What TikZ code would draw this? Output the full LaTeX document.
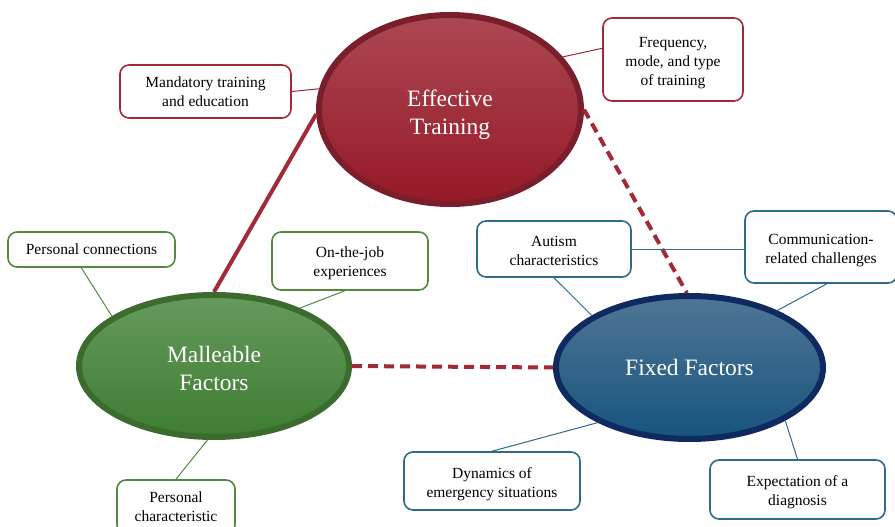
\documentclass[tikz,border=0pt]{standalone}
\usepackage{fontspec}
\setmainfont{Liberation Serif}
\usepackage{tikz}
\usepackage{xcolor}
\usetikzlibrary{arrows,positioning,shapes.geometric}

\definecolor{redrim}{HTML}{7A1E2B}
\definecolor{redtop}{HTML}{AB4853}
\definecolor{redbot}{HTML}{961827}
\definecolor{redline}{HTML}{A22A38}
\definecolor{greenrim}{HTML}{3B6B2E}
\definecolor{greentop}{HTML}{66995E}
\definecolor{greenbot}{HTML}{3E7D31}
\definecolor{greenline}{HTML}{54893F}
\definecolor{bluerim}{HTML}{0E2A60}
\definecolor{bluetop}{HTML}{4F7595}
\definecolor{bluebot}{HTML}{16547E}
\definecolor{blueline}{HTML}{2D6A8C}

% centred lines, set a little lower than the box middle
\newcommand\dropped[2][3pt]{\raisebox{-#1}[\height][\depth]{\begin{tabular}{@{}c@{}}#2\end{tabular}}}

\tikzset{
  factor/.style={ellipse,inner sep=0pt,line width=6pt,text=white,align=center,
    font=\fontsize{23.5}{28}\selectfont},
  callout/.style={rectangle,rounded corners=9pt,fill=white,line width=1.6pt,
    inner sep=0pt,align=center,font=\fontsize{15.5}{19}\selectfont},
  redbox/.style={callout,draw=redline},
  greenbox/.style={callout,draw=greenline},
  bluebox/.style={callout,draw=blueline},
  link/.style={line width=1pt},
  tie/.style={line width=4pt,draw=redline},
}

\begin{document}
\begin{tikzpicture}[x=1pt,y=-1pt]
\useasboundingbox (0,0) rectangle (895,527);

\node[factor,draw=redrim,top color=redtop,bottom color=redbot,minimum width=262,minimum height=189] (et) at (450,109.5){\dropped[5pt]{Effective\\Training}};
\node[factor,draw=greenrim,top color=greentop,bottom color=greenbot,minimum width=270,minimum height=142] (mf) at (214,366){\dropped[5pt]{Malleable\\Factors}};
\node[factor,draw=bluerim,top color=bluetop,bottom color=bluebot,minimum width=267,minimum height=143] (ff) at (689.5,367.5){Fixed Factors};

% links between the three factors
\draw[tie] (et.182) to (mf.north);
\draw[tie,dash pattern=on 10pt off 6pt] (et.east) to (ff.92);
\draw[tie,dash pattern=on 10pt off 6pt] (mf.east) to (ff.west);

\node[redbox,minimum width=171,minimum height=53] (mand) at (205.5,91.5){\dropped[2pt]{Mandatory training\\and education}};
\draw[link,redline] (mand.east) to (et.171);
\node[redbox,minimum width=140,minimum height=83] (freq) at (673,59.5){\dropped{Frequency,\\mode, and type\\of training}};
\draw[link,redline] (freq.171) to (et.25);

\node[greenbox,minimum width=167,minimum height=35] (pcon) at (91.5,249.5){\dropped[1pt]{Personal connections}};
\draw[link,greenline] (pcon.241) to (mf.154);
\node[greenbox,minimum width=156,minimum height=58] (job) at (350,261){\dropped[2pt]{On-the-job\\experiences}};
\draw[link,greenline] (job.260) to (mf.34);
\node[greenbox,minimum width=118,minimum height=54] (pchar) at (176,507){\dropped[1pt]{Personal\\characteristic}};
\draw[link,greenline] (pchar.north) to (mf.265);

\node[bluebox,minimum width=154,minimum height=56] (aut) at (554,249){\dropped{Autism\\characteristics}};
\node[bluebox,minimum width=152,minimum height=72] (comm) at (821,247){\dropped{Communication-\\related challenges}};
\draw[link,blueline] (aut.east) to (aut.east -| comm.west);
\draw[link,blueline] (aut.south) to (ff.152);
\draw[link,blueline] (comm.279) to (ff.33);
\node[bluebox,minimum width=176,minimum height=58] (dyn) at (492,481){\dropped{Dynamics of\\emergency situations}};
\draw[link,blueline] (dyn.north) to (ff.211);
\node[bluebox,minimum width=175,minimum height=59] (expe) at (797.5,489.5){\dropped{Expectation of a\\diagnosis}};
\draw[link,blueline] (expe.north) to (ff.331);

\end{tikzpicture}
\end{document}
